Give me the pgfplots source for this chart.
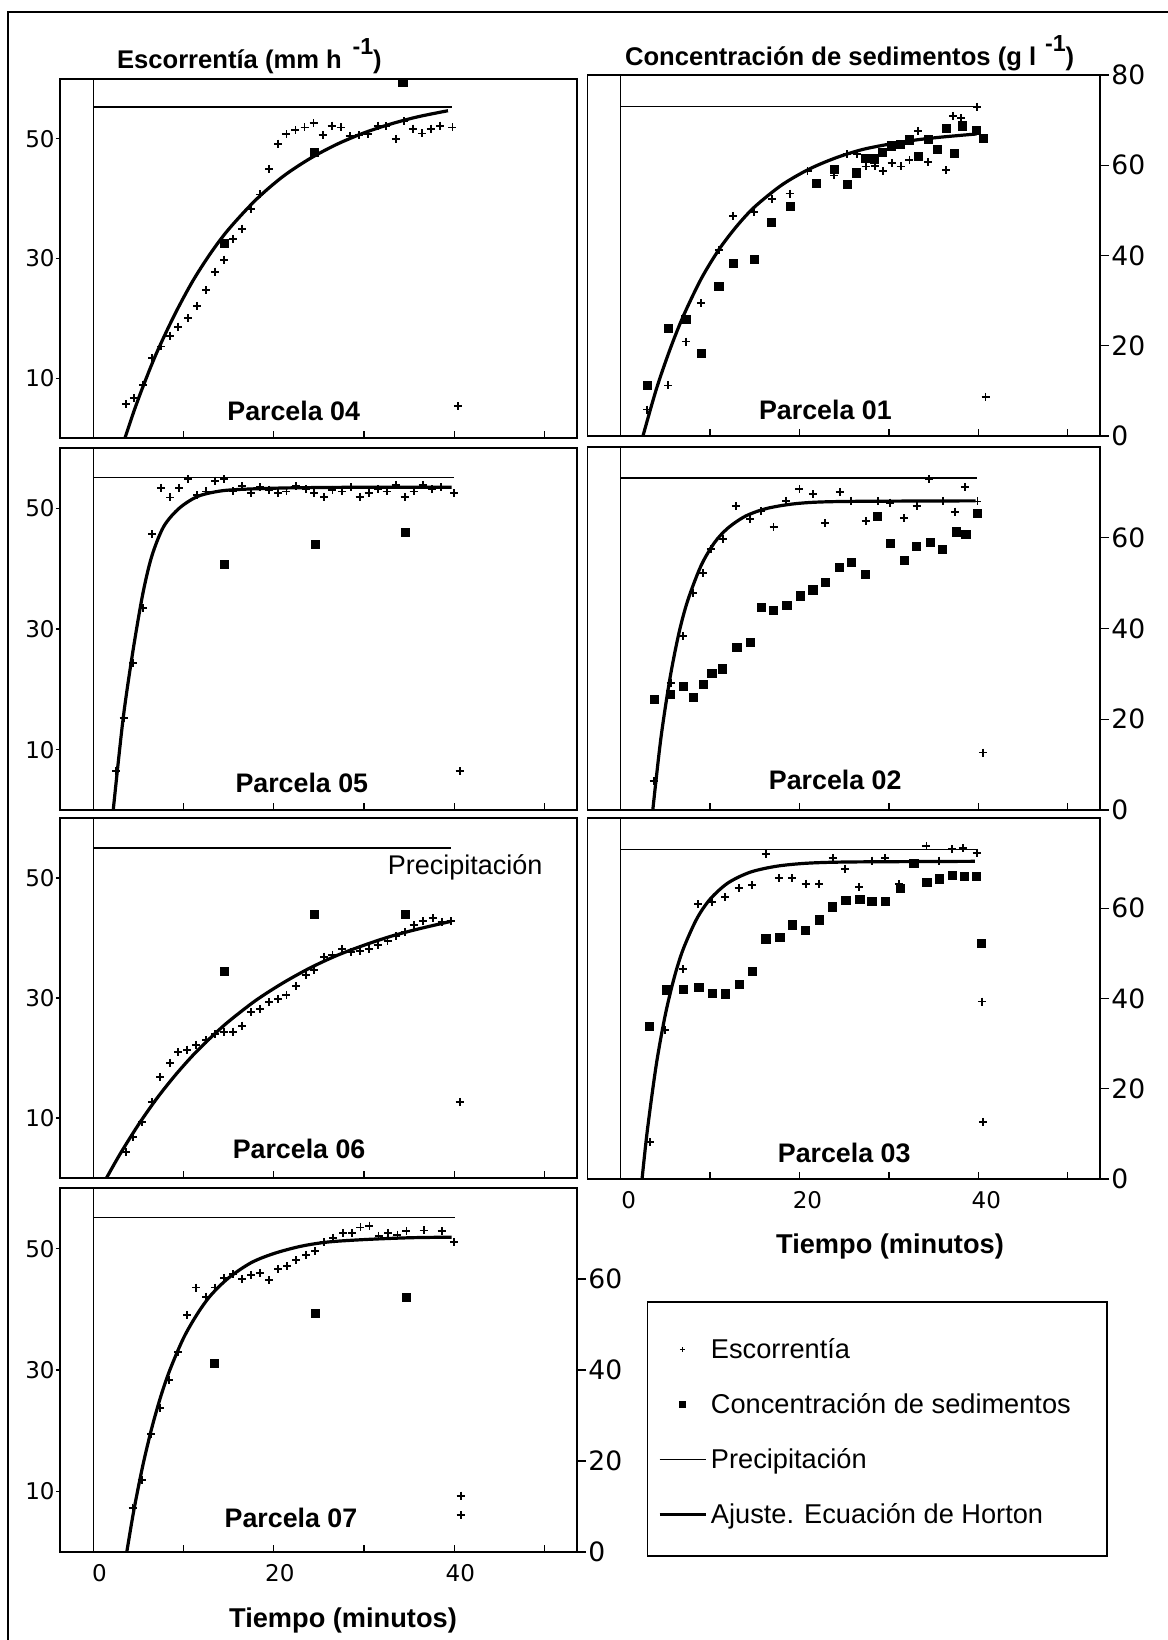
\documentclass[border=0pt]{standalone}
\usepackage{fontspec}
\setmainfont{Liberation Sans}
\newfontfamily\djv{DejaVu Sans}
\usepackage{pgfplots}
\pgfplotsset{compat=1.18}
\tikzset{parc/.style={font=\bfseries\fontsize{13.4}{14}\selectfont}}
\pgfplotsset{
 /pgf/number format/assume math mode=true,
 base/.style={scale only axis, anchor=north west, xmin=-3.7, xmax=53.6, clip=false},
 boxax/.style={base, ymin=0, ymax=60, axis line style={line width=0.9pt},
   xtick={0,10,20,30,40,50}, xticklabels={}, xtick pos=bottom, ytick=\empty,
   tick align=inside, major tick length=3.5pt, tick style={line width=0.6pt,black},
   xticklabel style={font=\djv\fontsize{11.5}{12}\selectfont, yshift=-2.5pt, xshift=3pt}},
 lefttick/.style={base, ymin=0, ymax=60, axis x line=none, axis y line*=left, axis line style={draw=none},
   ytick={10,30,50}, tick align=outside, major tick length=2pt, tick style={line width=0.6pt,black},
   yticklabel style={font=\djv\fontsize{11.5}{12}\selectfont, inner xsep=0.5pt}},
 sedax/.style={base, ymin=0, ymax=80, axis x line=none, axis y line*=right, axis line style={draw=none},
   tick align=outside, major tick length=4.5pt, tick style={line width=0.6pt,black},
   yticklabel style={font=\djv\fontsize{13.3}{14}\selectfont, inner xsep=1pt}},
 sedhide/.style={base, ymin=0, ymax=80, hide axis},
 cross/.style={only marks, mark=+, mark size=2pt, mark options={line width=0.95pt, black}},
 sq/.style={only marks, mark=square*, mark size=2.05pt, mark options={black, rounded corners=0.4pt}},
 precip/.style={black, line width=0.65pt},
 horton/.style={black, line width=1.6pt, smooth},
 zeroline/.style={black, line width=0.65pt},
}
\begin{document}
\begin{tikzpicture}
\path[use as bounding box] (0pt,0pt) rectangle (584pt,-820pt);
\draw[line width=1.3pt] (4pt,-820pt) -- (4pt,-6pt) -- (584pt,-6pt);

% ---------------- Parcela 04 ----------------
\begin{axis}[boxax, at={(30pt,-39.5pt)}, width=258.5pt, height=179.5pt]
\addplot[zeroline] coordinates {(0,0) (0,60)};
\addplot[precip] coordinates {(0,55.3) (39.8,55.3)};
\addplot[horton] coordinates {(3.5,0) (4.5,4.5) (5.5,8.6) (7,14.2) (9,20.6) (11,26.2) (13,30.9) (15,34.9) (18,39.8) (21,43.7) (24,46.7) (27,49.1) (30,51.0) (33,52.5) (36,53.7) (39.3,54.7)};
\addplot[cross] coordinates {(3.66,5.7) (4.5,6.7) (5.5,8.9) (6.5,13.3) (7.5,15.3) (8.5,17.1) (9.4,18.6) (10.5,20.0) (11.5,22.1) (12.5,24.7) (13.5,27.8) (14.5,29.8) (15.5,33.3) (16.5,35.0) (17.5,38.3) (18.5,40.7) (19.5,45.0) (20.5,49.2) (21.4,50.8) (22.4,51.5) (23.4,51.9) (24.4,52.6) (25.4,50.6) (26.4,52.2) (27.4,51.9) (28.4,50.4) (29.4,50.6) (30.4,50.8) (31.5,52.2) (32.4,52.1) (33.5,50.0) (34.4,52.9) (35.4,51.7) (36.4,50.9) (37.4,51.7) (38.4,52.2) (39.8,51.9) (40.4,5.3)};
\node[parc] at (axis cs:22.2,4.6) {Parcela 04};
\end{axis}
\begin{axis}[lefttick, at={(30pt,-39.5pt)}, width=258.5pt, height=179.5pt]
\addplot[draw=none] coordinates {(0,0)};
\end{axis}
\begin{axis}[sedhide, at={(30pt,-39.5pt)}, width=258.5pt, height=179.5pt]
\addplot[sq] coordinates {(14.5,43.3) (24.5,63.7) (34.3,79.3)};
\end{axis}

% ---------------- Parcela 05 ----------------
\begin{axis}[boxax, at={(30pt,-224pt)}, width=258.5pt, height=181pt]
\addplot[zeroline] coordinates {(0,0) (0,60)};
\addplot[precip] coordinates {(0,55.1) (40.0,55.1)};
\addplot[horton] coordinates {(2.2,0) (3.3,15.2) (4.4,26.5) (5.5,36) (6.5,42.2) (7.8,47.0) (9.5,50.0) (11.6,52.0) (14.2,52.9) (17.2,53.2) (22,53.4) (30,53.5) (39.7,53.5)};
\addplot[cross] coordinates {(2.5,6.5) (3.36,15.3) (4.4,24.4) (5.5,33.5) (6.5,45.7) (7.5,53.4) (8.5,51.8) (9.5,53.4) (10.5,54.8) (11.5,52.2) (12.5,52.8) (13.5,54.6) (14.5,54.8) (15.5,52.8) (16.5,53.7) (17.5,52.5) (18.5,53.5) (19.5,53.1) (20.5,52.5) (21.4,52.8) (22.5,53.7) (23.6,53.2) (24.5,52.5) (25.6,51.9) (26.5,53.1) (27.6,52.8) (28.6,53.5) (29.5,51.9) (30.5,52.6) (31.5,53.2) (32.5,52.8) (33.5,53.9) (34.5,51.9) (35.5,52.8) (36.5,53.9) (37.5,53.2) (38.5,53.5) (40.0,52.5) (40.6,6.4)};
\node[parc] at (axis cs:23.1,4.5) {Parcela 05};
\end{axis}
\begin{axis}[lefttick, at={(30pt,-224pt)}, width=258.5pt, height=181pt]
\addplot[draw=none] coordinates {(0,0)};
\end{axis}
\begin{axis}[sedhide, at={(30pt,-224pt)}, width=258.5pt, height=181pt]
\addplot[sq] coordinates {(14.5,54.2) (24.6,58.7) (34.6,61.3)};
\end{axis}

% ---------------- Parcela 06 ----------------
\begin{axis}[boxax, at={(30pt,-409pt)}, width=258.5pt, height=180pt]
\addplot[zeroline] coordinates {(0,0) (0,60)};
\addplot[precip] coordinates {(0,55.0) (39.6,55.0)};
\addplot[horton] coordinates {(1.45,0) (3,4.1) (5,8.9) (7,13.2) (9,17.0) (11,20.4) (13,23.4) (15,26.1) (18,29.6) (21,32.5) (24,35.0) (27,37.1) (30,38.8) (33,40.3) (36,41.5) (39.7,42.8)};
\addplot[cross] coordinates {(3.57,4.4) (4.4,6.9) (5.4,9.4) (6.5,12.6) (7.4,16.8) (8.5,19.2) (9.4,21.0) (10.4,21.4) (11.4,22.2) (12.5,23.0) (13.5,24.0) (14.5,24.4) (15.5,24.4) (16.5,25.4) (17.5,27.6) (18.5,28.2) (19.5,29.3) (20.5,29.8) (21.4,30.5) (22.5,32.0) (23.6,33.8) (24.5,34.7) (25.6,36.9) (26.5,37.2) (27.6,38.2) (28.6,37.7) (29.5,37.8) (30.5,38.2) (31.5,38.9) (32.6,39.5) (33.5,40.3) (34.5,41.0) (35.5,42.2) (36.5,42.8) (37.6,43.3) (38.6,42.7) (39.6,42.8) (40.6,12.7)};
\node[parc] at (axis cs:22.8,4.8) {Parcela 06};
\node[font=\fontsize{13.5}{14}\selectfont] at (axis cs:41.2,51.8) {Precipitación};
\end{axis}
\begin{axis}[lefttick, at={(30pt,-409pt)}, width=258.5pt, height=180pt]
\addplot[draw=none] coordinates {(0,0)};
\end{axis}
\begin{axis}[sedhide, at={(30pt,-409pt)}, width=258.5pt, height=180pt]
\addplot[sq] coordinates {(14.5,45.9) (24.5,58.5) (34.6,58.5)};
\end{axis}

% ---------------- Parcela 07 ----------------
\begin{axis}[boxax, at={(30pt,-594pt)}, width=258.5pt, height=182pt, xticklabels={0,,20,,40,}]
\addplot[zeroline] coordinates {(0,0) (0,60)};
\addplot[precip] coordinates {(0,55.1) (40.1,55.1)};
\addplot[horton] coordinates {(3.7,0) (4.5,7.0) (5.5,14.4) (6.5,20.6) (7.5,25.8) (8.5,30.1) (10,35.3) (11.5,39.2) (13,42.3) (15,45.2) (17.5,47.7) (20,49.2) (23,50.4) (26,51.1) (30,51.5) (35,51.8) (39.7,51.9)};
\addplot[cross] coordinates {(4.34,7.3) (5.36,11.8) (6.4,19.4) (7.4,23.8) (8.4,28.4) (9.4,32.9) (10.4,39.1) (11.4,43.6) (12.5,42.1) (13.5,43.6) (14.5,45.2) (15.5,45.8) (16.5,45.0) (17.5,45.7) (18.5,46.0) (19.5,44.8) (20.5,46.6) (21.5,47.1) (22.5,48.1) (23.6,49.0) (24.6,49.6) (25.6,51.1) (26.6,51.8) (27.7,52.6) (28.7,52.6) (29.6,53.5) (30.6,53.8) (31.6,52.1) (32.7,52.6) (33.7,52.3) (34.7,52.9) (36.6,53.0) (38.6,52.9) (40.0,51.1) (40.7,9.3) (40.7,6.1)};
\node[parc] at (axis cs:21.9,5.6) {Parcela 07};
\end{axis}
\begin{axis}[lefttick, at={(30pt,-594pt)}, width=258.5pt, height=182pt]
\addplot[draw=none] coordinates {(0,0)};
\end{axis}
\begin{axis}[sedax, at={(30pt,-594pt)}, width=258.5pt, height=182pt, ytick={0,20,40,60}]
\addplot[sq] coordinates {(13.4,41.4) (24.6,52.5) (34.7,56.0)};
\end{axis}

% ---------------- Parcela 01 ----------------
\begin{axis}[boxax, at={(293.75pt,-37.5pt)}, width=256.25pt, height=180.5pt]
\addplot[zeroline] coordinates {(0,0) (0,60)};
\addplot[precip] coordinates {(0,54.8) (39.8,54.8)};
\addplot[horton] coordinates {(2.5,0) (4,7.8) (5.5,14.3) (7,19.9) (9,26.1) (11,31.0) (13,34.9) (15,38.1) (18,41.7) (21,44.3) (24,46.2) (27,47.6) (30,48.5) (33,49.2) (36,49.7) (39.8,50.2)};
\addplot[cross] coordinates {(3.0,4.4) (5.3,8.4) (7.3,15.7) (9.0,22.1) (11.0,30.9) (12.6,36.6) (14.9,37.3) (16.9,39.4) (18.9,40.3) (20.9,44.0) (23.9,43.3) (25.3,46.8) (26.4,46.9) (27.4,44.8) (28.4,44.9) (29.3,44.0) (30.3,45.4) (31.3,44.8) (32.3,45.9) (33.3,50.7) (34.4,45.5) (36.4,44.2) (37.2,53.2) (38.1,52.8) (39.8,54.7) (40.8,6.5)};
\node[parc] at (axis cs:22.9,4.3) {Parcela 01};
\end{axis}
\begin{axis}[sedax, at={(293.75pt,-37.5pt)}, width=256.25pt, height=180.5pt, ytick={0,20,40,60,80}]
\addplot[sq] coordinates {(3.0,11.3) (5.3,23.9) (7.3,25.9) (9.0,18.3) (11.0,33.1) (12.6,38.3) (15.0,39.1) (16.9,47.3) (19.0,50.8) (21.9,56.0) (23.9,59.1) (25.4,55.8) (26.4,58.3) (27.4,61.5) (28.4,61.4) (29.3,62.8) (30.3,64.3) (31.3,64.6) (32.3,65.6) (33.3,62.0) (34.4,65.7) (35.4,63.5) (36.4,68.2) (37.3,62.6) (38.2,68.7) (39.8,67.8) (40.6,66.0)};
\end{axis}

% ---------------- Parcela 02 ----------------
\begin{axis}[boxax, at={(293.75pt,-223.5pt)}, width=256.25pt, height=181.5pt]
\addplot[zeroline] coordinates {(0,0) (0,60)};
\addplot[precip] coordinates {(0,54.9) (39.9,54.9)};
\addplot[horton] coordinates {(3.6,0) (4.5,11.8) (5.5,21.6) (6.5,29.1) (7.5,34.6) (9,40.4) (10.5,44.2) (12,46.6) (14,48.6) (16.5,49.9) (20,50.7) (25,51.0) (39.7,51.1)};
\addplot[cross] coordinates {(3.7,4.8) (5.6,21.0) (7.0,28.8) (8.1,35.8) (9.2,39.2) (10.1,43.1) (11.4,44.8) (12.9,50.2) (14.5,48.1) (15.7,49.4) (17.1,46.8) (18.5,51.1) (20.0,53.1) (21.5,52.2) (22.9,47.4) (24.5,52.5) (25.8,51.1) (27.4,47.7) (28.8,51.0) (30.1,50.8) (31.7,48.2) (33.1,50.2) (34.5,54.7) (36.0,51.1) (37.4,49.3) (38.5,53.4) (39.9,51.0) (40.5,9.5)};
\node[parc] at (axis cs:24,4.96) {Parcela 02};
\end{axis}
\begin{axis}[sedax, at={(293.75pt,-223.5pt)}, width=256.25pt, height=181.5pt, ytick={0,20,40,60}]
\addplot[sq] coordinates {(3.75,24.4) (5.6,25.5) (7.0,27.2) (8.1,24.8) (9.25,27.6) (10.2,30.1) (11.4,31.1) (13.0,35.8) (14.5,37.0) (15.75,44.6) (17.1,44.0) (18.6,45.1) (20.1,47.2) (21.5,48.5) (22.9,50.1) (24.5,53.5) (25.8,54.6) (27.4,52.0) (28.75,64.7) (30.2,58.8) (31.7,55.0) (33.1,58.1) (34.6,59.0) (36.0,57.5) (37.5,61.3) (38.6,60.7) (39.9,65.4)};
\end{axis}

% ---------------- Parcela 03 ----------------
\begin{axis}[boxax, at={(293.75pt,-409pt)}, width=256.25pt, height=180.5pt, xticklabels={0,,20,,40,}, xticklabel style={xshift=1pt}]
\addplot[zeroline] coordinates {(0,0) (0,60)};
\addplot[precip] coordinates {(0,54.8) (39.8,54.8)};
\addplot[horton] coordinates {(2.4,0) (3,8.2) (4,19.1) (5,27.3) (6,33.5) (7,38.2) (8.5,43.2) (10,46.5) (12,49.2) (14.5,51.0) (17.5,52.0) (21,52.5) (26,52.7) (39.6,52.8)};
\addplot[cross] coordinates {(3.3,6.1) (5.0,24.7) (7.0,34.9) (8.7,45.7) (10.2,46.0) (11.7,46.8) (13.2,48.4) (14.7,48.8) (16.25,54.0) (17.7,50.0) (19.2,50.0) (20.7,49.1) (22.2,49.1) (23.7,53.3) (25.1,51.6) (26.7,48.5) (28.1,52.9) (29.6,53.3) (31.1,49.0) (32.8,52.5) (34.2,55.3) (35.6,52.9) (37.1,54.8) (38.3,55.0) (39.8,54.2) (40.4,29.5) (40.5,9.5)};
\node[parc] at (axis cs:25,4.3) {Parcela 03};
\end{axis}
\begin{axis}[sedax, at={(293.75pt,-409pt)}, width=256.25pt, height=180.5pt, ytick={0,20,40,60}]
\addplot[sq] coordinates {(3.25,33.9) (5.1,41.9) (7.0,42.1) (8.75,42.4) (10.3,41.2) (11.75,41.0) (13.25,43.1) (14.7,46.0) (16.25,53.2) (17.8,53.5) (19.25,56.3) (20.7,55.1) (22.2,57.4) (23.7,60.3) (25.2,61.8) (26.75,62.0) (28.1,61.6) (29.6,61.5) (31.25,64.4) (32.8,69.9) (34.25,65.8) (35.6,66.5) (37.1,67.3) (38.4,67.1) (39.8,67.0) (40.3,52.2)};
\end{axis}

% ---------------- Titles ----------------
\node[anchor=base west, font=\bfseries\fontsize{12.8}{14}\selectfont] at (55pt,-34pt) {Escorrentía (mm h\hspace{0.42em}\raisebox{0.52em}{\fontsize{11.6}{12}\selectfont -1})};
\node[anchor=base west, font=\bfseries\fontsize{12.8}{14}\selectfont] at (309pt,-32.5pt) {Concentración de sedimentos (g l\hspace{0.35em}\raisebox{0.52em}{\fontsize{11.6}{12}\selectfont -1})};
\node[font=\bfseries\fontsize{13.6}{14}\selectfont] at (171.5pt,-810pt) {Tiempo (minutos)};
\node[font=\bfseries\fontsize{13.6}{14}\selectfont] at (445pt,-623.3pt) {Tiempo (minutos)};

% ---------------- Legend ----------------
\begin{axis}[hide axis, scale only axis, anchor=north west, at={(323.75pt,-651pt)}, width=229.75pt, height=127pt,
  xmin=0, xmax=1, ymin=0, ymax=1,
  legend image code/.code={\draw[mark repeat=2,mark phase=2,#1] plot coordinates {(0pt,0pt) (11.5pt,0pt) (23pt,0pt)};},
  legend style={draw=none, fill=none, at={(0.0228,0.875)}, anchor=north west, inner sep=0pt,
    font=\fontsize{13.6}{14}\selectfont, row sep=12pt, legend cell align=left}]
\addlegendimage{only marks, mark=+, mark size=1.4pt, mark options={line width=0.5pt, black}}
\addlegendentry{Escorrentía}
\addlegendimage{only marks, mark=square*, mark size=1.5pt, mark options={black}}
\addlegendentry{Concentración de sedimentos}
\addlegendimage{black, line width=0.6pt}
\addlegendentry{Precipitación}
\addlegendimage{black, line width=1.3pt}
\addlegendentry{Ajuste. Ecuación de Horton}
\end{axis}
\draw[line width=0.8pt] (323.75pt,-651pt) rectangle (553.5pt,-778pt);
\end{tikzpicture}
\end{document}
